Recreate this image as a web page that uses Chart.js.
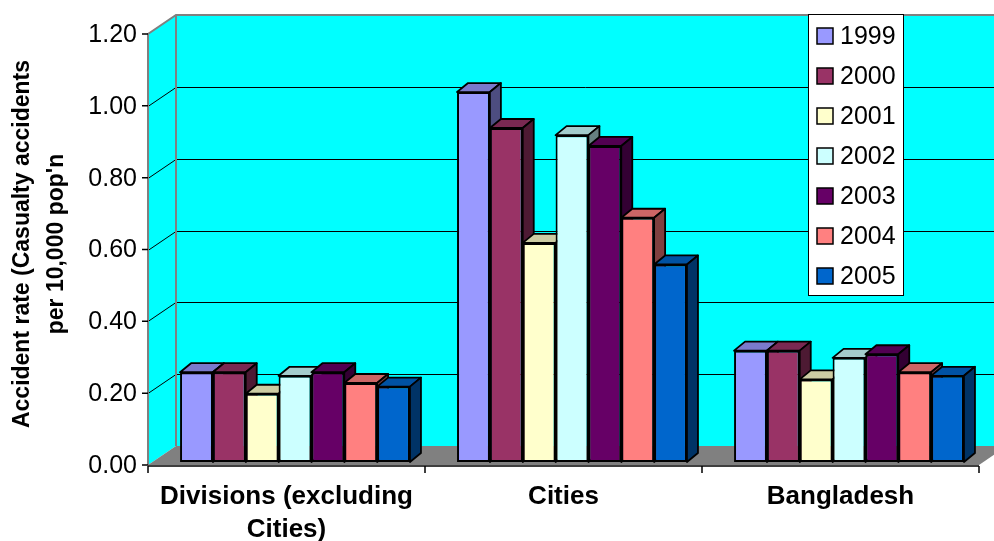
<!DOCTYPE html>
<html>
<head>
<meta charset="utf-8">
<script src="https://cdn.jsdelivr.net/npm/chart.js@4/dist/chart.umd.min.js"></script>
<style>
  html, body { margin: 0; padding: 0; background: #fff; }
  canvas { display: block; }
</style>
</head>
<body>
<canvas id="accidentChart" width="994" height="541"></canvas>
<script>
const regions = [['Divisions (excluding', 'Cities)'], 'Cities', 'Bangladesh'];
const years = ['1999', '2000', '2001', '2002', '2003', '2004', '2005'];

// casualty accidents per 10,000 population, one array per year
const rate1999 = [0.25, 1.03, 0.31];
const rate2000 = [0.25, 0.93, 0.31];
const rate2001 = [0.19, 0.61, 0.23];
const rate2002 = [0.24, 0.91, 0.29];
const rate2003 = [0.25, 0.88, 0.30];
const rate2004 = [0.22, 0.68, 0.25];
const rate2005 = [0.21, 0.55, 0.24];

const rateTicks = [0, 0.2, 0.4, 0.6, 0.8, 1.0, 1.2];
const yearColors = ['#9999FF', '#993366', '#FFFFCC', '#CCFFFF', '#660066', '#FF8080', '#0066CC'];

const seriesValues = [rate1999, rate2000, rate2001, rate2002, rate2003, rate2004, rate2005];

const FONT = '"Liberation Sans", Arial, sans-serif';
const WALL_DX = 28, WALL_DY = -19;      // depth of the back wall
const SHIFT_X = 8.5, SHIFT_Y = -3;      // bars sit a little behind the front edge
const BAR_DX = 11, BAR_DY = -9;         // depth of each bar

function shade(hex, f) {
  const n = parseInt(hex.slice(1), 16);
  const r = Math.round(((n >> 16) & 255) * f);
  const g = Math.round(((n >> 8) & 255) * f);
  const b = Math.round((n & 255) * f);
  return `rgb(${r},${g},${b})`;
}

function poly(ctx, pts) {
  ctx.beginPath();
  ctx.moveTo(pts[0][0], pts[0][1]);
  for (let i = 1; i < pts.length; i++) ctx.lineTo(pts[i][0], pts[i][1]);
  ctx.closePath();
}

const wallPlugin = {
  id: 'wall3d',
  beforeDatasetsDraw(chart) {
    const { ctx, chartArea: a, scales: { y } } = chart;
    const top = y.getPixelForValue(rateTicks[rateTicks.length - 1]);
    const bot = y.getPixelForValue(0);
    ctx.save();
    ctx.fillStyle = '#00FFFF';
    poly(ctx, [[a.left, top], [a.left + WALL_DX, top + WALL_DY], [a.left + WALL_DX, bot + WALL_DY], [a.left, bot]]);
    ctx.fill();
    ctx.fillRect(a.left + WALL_DX, top + WALL_DY, a.right - a.left + 10, bot - top);

    // floor
    ctx.fillStyle = '#808080';
    poly(ctx, [[a.left, bot], [a.right, bot], [a.right + WALL_DX, bot + WALL_DY], [a.left + WALL_DX, bot + WALL_DY]]);
    ctx.fill();

    // gridlines on side and back wall
    ctx.strokeStyle = '#000';
    ctx.lineWidth = 1;
    rateTicks.slice(1, -1).forEach((v) => {
      const py = Math.round(y.getPixelForValue(v)) + 0.5;
      ctx.beginPath();
      ctx.moveTo(a.left, py);
      ctx.lineTo(a.left + WALL_DX, py + WALL_DY);
      ctx.lineTo(a.right + WALL_DX + 20, py + WALL_DY);
      ctx.stroke();
    });

    // wall edges
    ctx.strokeStyle = '#808080';
    ctx.lineWidth = 2;
    ctx.beginPath();
    ctx.moveTo(a.left, bot);
    ctx.lineTo(a.left, top);
    ctx.lineTo(a.left + WALL_DX, top + WALL_DY);
    ctx.lineTo(a.right + WALL_DX + 20, top + WALL_DY);
    ctx.moveTo(a.left + WALL_DX, top + WALL_DY);
    ctx.lineTo(a.left + WALL_DX, bot + WALL_DY);
    ctx.stroke();

    // top and side faces of every bar, left to right, before the fronts go on
    ctx.translate(SHIFT_X, SHIFT_Y);
    ctx.strokeStyle = '#000';
    ctx.lineWidth = 1.8;
    ctx.lineJoin = 'round';
    chart.data.datasets.forEach((ds, i) => {
      const meta = chart.getDatasetMeta(i);
      meta.data.forEach((bar) => {
        const { x, y: t, base, width } = bar.getProps(['x', 'y', 'base', 'width'], true);
        const l = x - width / 2;
        const r = x + width / 2;
        ctx.fillStyle = shade(ds.backgroundColor, 0.8);
        poly(ctx, [[l, t], [l + BAR_DX, t + BAR_DY], [r + BAR_DX, t + BAR_DY], [r, t]]);
        ctx.fill();
        ctx.stroke();
        ctx.fillStyle = shade(ds.backgroundColor, 0.5);
        poly(ctx, [[r, t], [r + BAR_DX, t + BAR_DY], [r + BAR_DX, base + BAR_DY], [r, base]]);
        ctx.fill();
        ctx.stroke();
      });
    });
    ctx.restore();
  },
  beforeDatasetDraw(chart) {
    chart.ctx.save();
    chart.ctx.translate(SHIFT_X, SHIFT_Y);
  },
  afterDatasetDraw(chart) {
    chart.ctx.restore();
  },
  afterDraw(chart) {
    const { ctx, chartArea: a, scales: { x, y } } = chart;
    ctx.save();

    // axes
    ctx.strokeStyle = '#000';
    ctx.lineWidth = 1.5;
    ctx.beginPath();
    ctx.moveTo(a.left, a.bottom + 1);
    ctx.lineTo(a.right, a.bottom + 1);
    const band = (a.right - a.left) / regions.length;
    for (let i = 0; i <= regions.length; i++) {
      const px = a.left + band * i;
      ctx.moveTo(px, a.bottom + 1);
      ctx.lineTo(px, a.bottom + 8);
    }
    rateTicks.forEach((v) => {
      const py = y.getPixelForValue(v);
      ctx.moveTo(a.left - 6, py);
      ctx.lineTo(a.left, py);
    });
    ctx.stroke();

    // y tick labels
    ctx.fillStyle = '#000';
    ctx.font = `25px ${FONT}`;
    ctx.textAlign = 'right';
    ctx.textBaseline = 'middle';
    rateTicks.forEach((v) => {
      ctx.fillText(v.toFixed(2), a.left - 11, y.getPixelForValue(v) + 1);
    });

    // category labels
    ctx.font = `bold 26px ${FONT}`;
    ctx.textAlign = 'center';
    regions.forEach((lbl, i) => {
      const lines = Array.isArray(lbl) ? lbl : [lbl];
      const px = x.getPixelForValue(i);
      lines.forEach((ln, k) => ctx.fillText(ln, px, a.bottom + 32 + k * 33));
    });

    // y title
    ctx.font = `bold 23px ${FONT}`;
    ctx.translate(0, 244);
    ctx.rotate(-Math.PI / 2);
    ctx.fillText('Accident rate (Casualty accidents', 0, 23);
    ctx.fillText("per 10,000 pop'n", 0, 57);
    ctx.restore();

    // legend
    ctx.save();
    ctx.fillStyle = '#fff';
    ctx.fillRect(808, 14.5, 95, 281);
    ctx.strokeStyle = '#000';
    ctx.lineWidth = 1;
    ctx.strokeRect(808.5, 14.5, 95, 281);
    ctx.font = `25px ${FONT}`;
    ctx.textAlign = 'left';
    ctx.textBaseline = 'middle';
    chart.data.datasets.forEach((ds, i) => {
      const cy = 36 + i * 40;
      ctx.fillStyle = ds.backgroundColor;
      ctx.fillRect(817, cy - 8, 16, 16);
      ctx.lineWidth = 1.5;
      ctx.strokeRect(817, cy - 8, 16, 16);
      ctx.fillStyle = '#000';
      ctx.fillText(ds.label, 840, cy + 1);
    });
    ctx.restore();
  },
};

new Chart(document.getElementById('accidentChart'), {
  type: 'bar',
  data: {
    labels: regions,
    datasets: years.map((year, i) => ({
      label: year,
      data: seriesValues[i],
      backgroundColor: yearColors[i],
      borderColor: '#000',
      borderWidth: 2,
      borderSkipped: false,
      categoryPercentage: 0.83,
      barPercentage: 1.0,
      clip: false,
    })),
  },
  options: {
    responsive: false,
    animation: false,
    devicePixelRatio: 1,
    layout: {
      padding: { left: 148, right: 15, top: 34, bottom: 76 },
    },
    plugins: {
      legend: { display: false },
      tooltip: { enabled: false },
    },
    scales: {
      x: { display: false, offset: true },
      y: { display: false, min: 0, max: 1.2 },
    },
  },
  plugins: [wallPlugin],
});
</script>
</body>
</html>
